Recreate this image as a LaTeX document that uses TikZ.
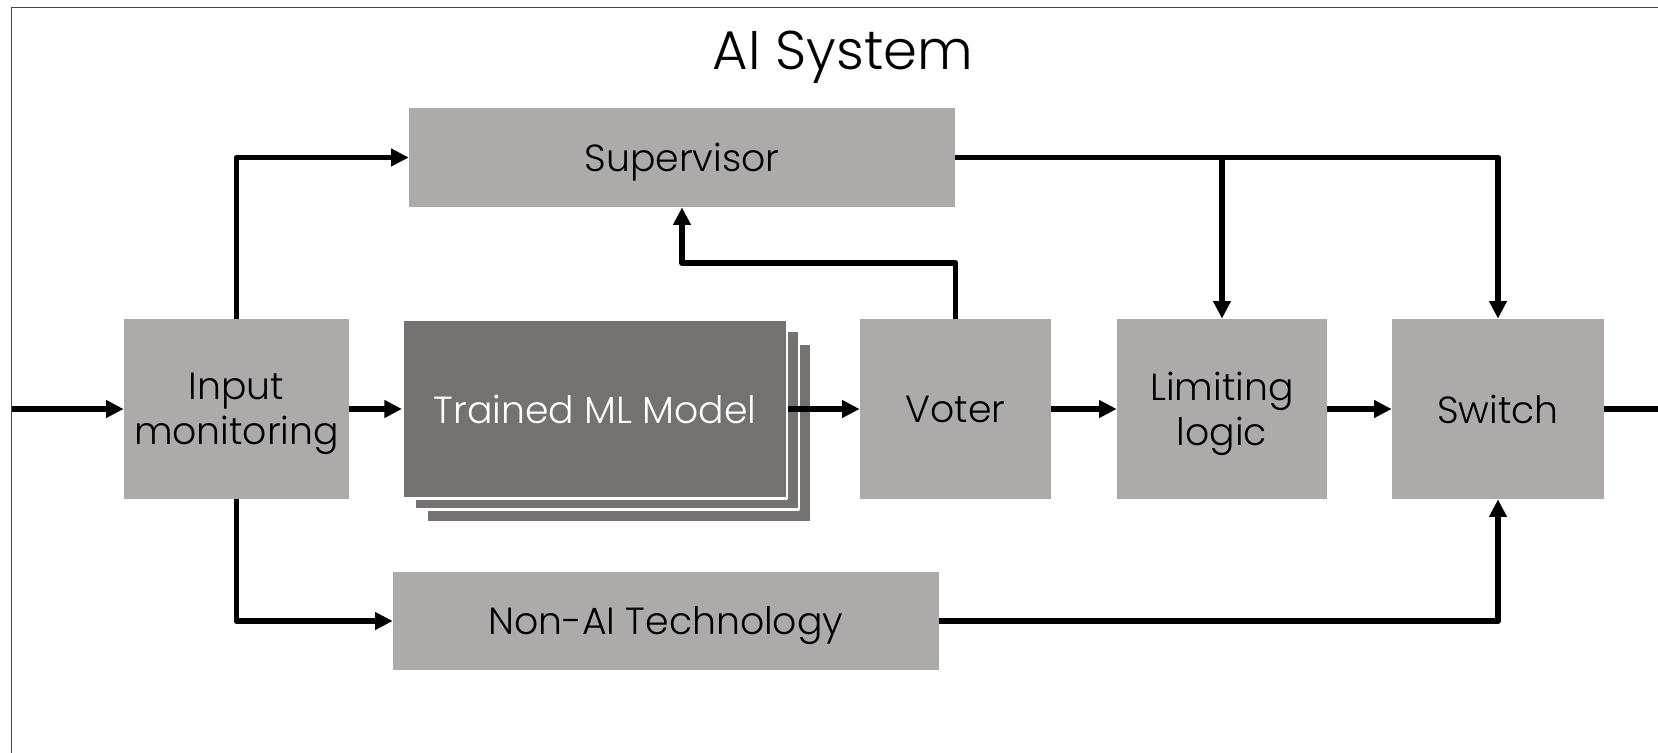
\documentclass[tikz,border=0pt]{standalone}
\usepackage{fontspec}
\setmainfont{Poppins Light}
\usetikzlibrary{arrows.meta}

\definecolor{boxgray}{RGB}{173,170,169}
\definecolor{modelgray}{RGB}{117,113,112}
\definecolor{framegray}{RGB}{70,70,70}

\begin{document}
\begin{tikzpicture}[line cap=butt,line join=round,x=0.02cm,y=-0.02cm,
        >={Triangle[length=10pt,width=9.6pt]},
        boxfont/.style={font=\fontsize{21.5}{25.8}\selectfont,text depth=0pt},
        block/.style={fill=boxgray,inner sep=0pt,minimum height=3.6cm,align=center,boxfont},
        wide/.style={block,minimum width=10.92cm,minimum height=1.98cm},
        layer/.style={fill=modelgray,draw=white,line width=1.2pt,inner sep=0pt,minimum width=7.68cm,minimum height=3.58cm},
        wire/.style={line width=3.4pt}]
        \useasboundingbox (0,0) rectangle (1658,753);
        \draw [framegray,line width=0.8pt] (11.5,753) -- (11.5,7.5) -- (1658,7.5);
        \node [font=\fontsize{31}{36}\selectfont,text depth=0pt] (title) at (843,50) {AI System};
        % blocks
        \node [wide] (sup) at (682,157.5) {Supervisor};
        \node [block,minimum width=4.5cm] (inp) at (236.5,409) {Input\\monitoring};
        \node [layer] (model3) at (619,433) {};
        \node [layer] (model2) at (607,420) {};
        \node [layer,text=white,boxfont] (model) at (595,409) {Trained ML Model};
        \node [block,minimum width=3.82cm] (voter) at (955.5,409) {Voter};
        \node [block,minimum width=4.2cm] (lim) at (1222,409) {Limiting\\logic};
        \node [block,minimum width=4.24cm] (sw) at (1498,409) {Switch};
        \node [wide,minimum height=1.96cm] (nonai) at (666,621) {Non-AI Technology};
        \coordinate (in) at (11.5,409);
        \coordinate (out) at (1658,409);
        % main path
        \draw [wire,->] (in) -- (inp.west);
        \draw [wire,->] (inp.east) -- (model.west);
        \draw [wire,->] (model.east) -- (voter.west);
        \draw [wire,->] (voter.east) -- (lim.west);
        \draw [wire,->] (lim.east) -- (sw.west);
        \draw [wire] (sw.east) -- (out);
        % side paths
        \draw [wire,->] (inp.north) |- (sup.west);
        \draw [wire,->] (inp.south) |- (nonai.west);
        \draw [wire,->] (voter.north) -- ++(0,-56) -| (sup.south);
        \draw [wire,->] (sup.east) -| (sw.north);
        \draw [wire,->] (sup.east -| lim.north) -- (lim.north);
        \draw [wire,->] (nonai.east) -| (sw.south);
\end{tikzpicture}
\end{document}
